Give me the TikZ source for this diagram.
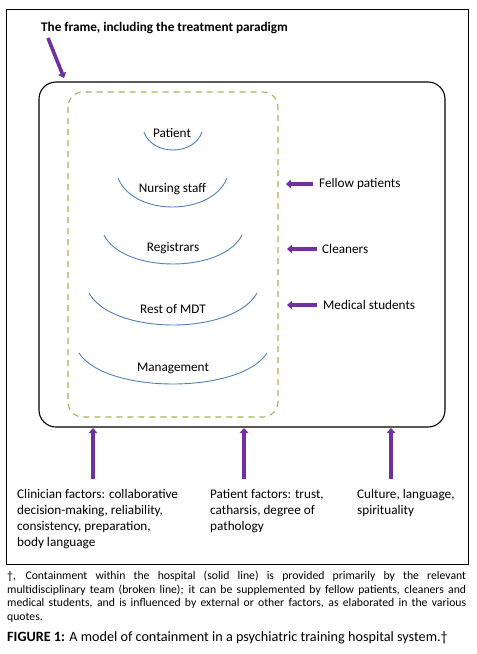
\documentclass[tikz,border=0pt]{standalone}
\usepackage{fontspec}
\setmainfont{Carlito}
\usetikzlibrary{arrows.meta,calc}
\definecolor{purp}{RGB}{112,48,160}
\definecolor{dgreen}{RGB}{155,187,89}
\definecolor{arcblue}{RGB}{79,129,189}
\tikzset{
  parrow/.style={purp, line width=3.6pt, -{Triangle[length=5pt,width=8.5pt]}},
  lbl/.style={font=\fontsize{13.2}{16}\selectfont, inner sep=0pt},
  arcline/.style={arcblue, line width=0.9pt},
}
\newcommand{\myarc}[5]{% name, xleft, xright, ytop, depth
  \coordinate (#1L) at (#2,#4);
  \coordinate (#1R) at (#3,#4);
  \draw[arcline] (#1L) .. controls ($(#1L)+({0.14*(#3-#2)},{1.333*#5})$) and ($(#1R)+({-0.14*(#3-#2)},{1.333*#5})$) .. (#1R);
}
\begin{document}
\begin{tikzpicture}[x=1pt,y=-1pt]
\useasboundingbox (0,0) rectangle (477,654);
\fill[white] (0,0) rectangle (477,654);
% outer frame
\draw[line width=1pt] (6,9) rectangle (468,564);
% title
\node[lbl, font=\fontsize{13.2}{16}\selectfont\bfseries, anchor=west] (title) at (41,28) {The frame, including the treatment paradigm};
% hospital
\draw[line width=1.1pt, rounded corners=17pt] (39,82) rectangle (445,427);
\coordinate (hospTL) at (64,78);
\coordinate (tstart) at (48,38);
\draw[parrow] (tstart) -- (hospTL);
% MDT dashed
\draw[dgreen, line width=1.1pt, dash pattern=on 6pt off 5pt, rounded corners=15pt] (68,92) rectangle (278,417);
% arcs and labels
\myarc{pat}{144}{202}{132}{18}
\node[lbl] (patient) at (172,133) {Patient};
\myarc{nur}{118}{227}{178}{29}
\node[lbl] (nursing) at (172.5,189) {Nursing staff};
\myarc{reg}{104}{242}{235}{29}
\node[lbl] (registrars) at (173,248) {Registrars};
\myarc{mdt}{89}{257}{293}{32}
\node[lbl] (mdt) at (173,309) {Rest of MDT};
\myarc{man}{79}{267}{353}{31}
\node[lbl] (management) at (173,368) {Management};
% right side supplements
\node[lbl, anchor=west] (fellow) at (319,184) {Fellow patients};
\node[lbl, anchor=west] (cleaners) at (322,249) {Cleaners};
\node[lbl, anchor=west] (medical) at (323,305) {Medical students};
\coordinate (fellowT) at (286,184);
\coordinate (cleanT) at (287,249);
\coordinate (medT) at (287,305);
\draw[parrow] ([xshift=-6pt]fellow.west) -- (fellowT);
\draw[parrow] ([xshift=-5pt]cleaners.west) -- (cleanT);
\draw[parrow] ([xshift=-6pt]medical.west) -- (medT);
% bottom factors
\node[lbl, anchor=north west, align=left] (clin) at (17,489) {Clinician factors: collaborative\\decision-making, reliability,\\consistency, preparation,\\body language};
\node[lbl, anchor=north west, align=left] (patf) at (210,489) {Patient factors: trust,\\catharsis, degree of\\pathology};
\node[lbl, anchor=north west, align=left] (cult) at (357,489) {Culture, language,\\spirituality};
\coordinate (a1s) at (93,479);
\coordinate (a1e) at (93,428);
\coordinate (a2s) at (244,479);
\coordinate (a2e) at (244,428);
\coordinate (a3s) at (391,479);
\coordinate (a3e) at (391,428);
\draw[parrow] (a1s) -- (a1e);
\draw[parrow] (a2s) -- (a2e);
\draw[parrow] (a3s) -- (a3e);
% footnote
\node[inner sep=0pt, anchor=north west, text width=459pt, align=justify, font=\fontsize{11.7}{13.6}\selectfont] (foot) at (7,571) {†, Containment within the hospital (solid line) is provided primarily by the relevant\linebreak multidisciplinary team (broken line); it can be supplemented by fellow patients, cleaners and\linebreak medical students, and is influenced by external or other factors, as elaborated in the various\linebreak quotes.};
\node[inner sep=0pt, anchor=west, font=\fontsize{14.2}{16}\selectfont] (caption) at (7,638) {\textbf{FIGURE 1:} A model of containment in a psychiatric training hospital system.†};
\end{tikzpicture}
\end{document}
